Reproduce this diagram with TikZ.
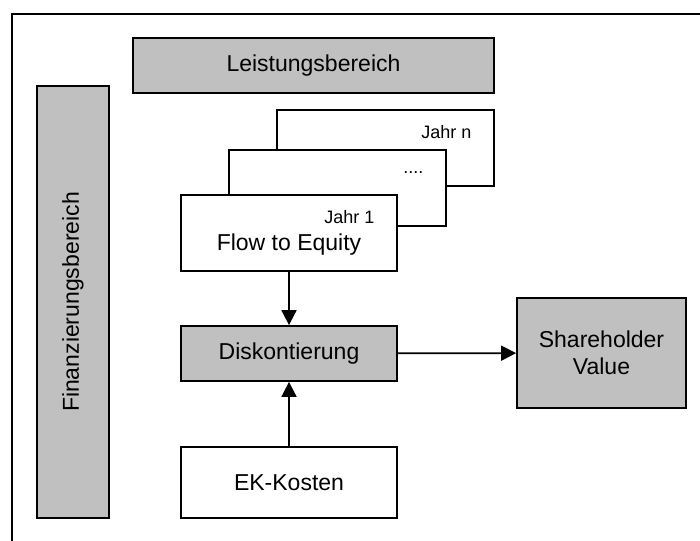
\documentclass[tikz,border=0pt]{standalone}
\usepackage{fontspec}
\setmainfont{Liberation Sans}
\usetikzlibrary{arrows.meta, positioning}
\definecolor{grau}{HTML}{C0C0C0}
\tikzset{
    kasten/.style = {draw, line width=1.8pt, inner sep=0pt},
    grau kasten/.style = {kasten, fill=grau},
    weiss kasten/.style = {kasten, fill=white},
    pfeil/.style = {-{Triangle[length=15pt, width=15pt]}, line width=1.8pt},
    gross/.style = {font=\fontsize{23}{27}\selectfont},
    klein/.style = {font=\fontsize{18}{21}\selectfont}
}

\begin{document}
\begin{tikzpicture}[x=1pt, y=-1pt]
    \useasboundingbox (0,0) rectangle (700,540);
    \clip (0,0) rectangle (700,540);
    \draw[line width=1.8pt] (12,560) |- (720,14);

    \node[grau kasten, gross, minimum width=361pt, minimum height=55pt] (lb) at (313.5,65.5) {Leistungsbereich};
    \node[grau kasten, gross, minimum width=72pt, minimum height=432pt] (fb) at (73,302) {};
    \node[gross, rotate=90] (fbtext) at (fb.center) {Finanzierungsbereich};

    \node[weiss kasten, minimum width=217pt, minimum height=76pt] (jn) at (385.5,148) {};
    \node[weiss kasten, minimum width=217pt, minimum height=76pt] (jm) at (337.5,188) {};
    \node[weiss kasten, minimum width=216pt, minimum height=76pt] (fte) at (289,233) {};
    \node[klein, anchor=east] (jntext) at ([shift={(-20,23)}]jn.north east) {Jahr n};
    \node[klein, anchor=east] (jmtext) at ([shift={(-20,23)}]jm.north east) {....};
    \node[klein, anchor=east] (j1text) at ([shift={(-20,23)}]fte.north east) {Jahr 1};
    \node[gross] (ftetext) at (289,245) {Flow to Equity};

    \node[grau kasten, gross, minimum width=216pt, minimum height=55pt] (disk) at (289,353.5) {Diskontierung};
    \node[grau kasten, gross, minimum width=169pt, minimum height=110pt, align=center] (shv) at (601.5,353) {Shareholder\\Value};
    \node[weiss kasten, gross, minimum width=216pt, minimum height=71pt] (ek) at (289,482.5) {EK-Kosten};

    \draw[pfeil] (fte) -- (disk);
    \draw[pfeil] (ek) -- (disk);
    \draw[pfeil] (disk) -- (shv);
\end{tikzpicture}
\end{document}
